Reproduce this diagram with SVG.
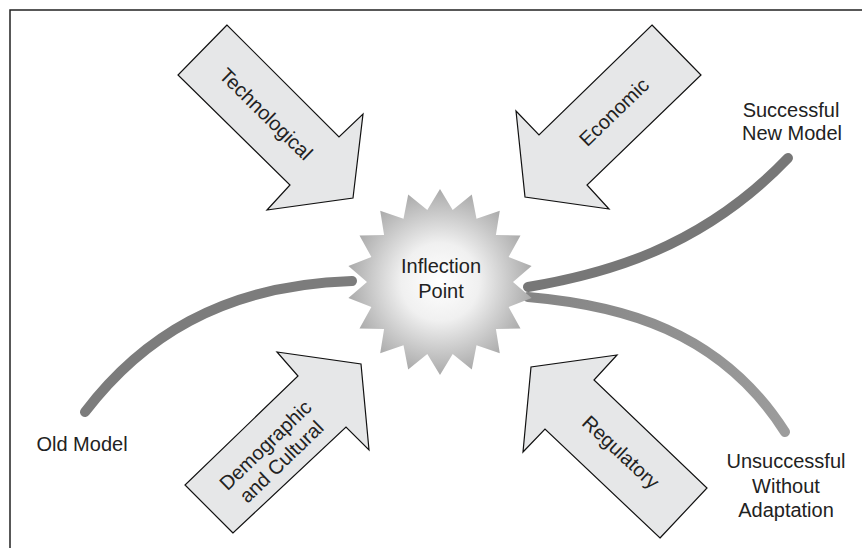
<svg xmlns="http://www.w3.org/2000/svg" width="862" height="548" viewBox="0 0 862 548">
  <defs>
    <radialGradient id="burst" gradientUnits="userSpaceOnUse" cx="440" cy="282" r="93">
      <stop offset="0" stop-color="#ffffff"/>
      <stop offset="0.42" stop-color="#f0f0f0"/>
      <stop offset="1" stop-color="#aaaaaa"/>
    </radialGradient>
    <linearGradient id="lowGrad" gradientUnits="userSpaceOnUse" x1="528" y1="297" x2="785" y2="432">
      <stop offset="0" stop-color="#858585"/>
      <stop offset="1" stop-color="#9c9c9c"/>
    </linearGradient>
    <style>
      .arrow { fill: #e6e7e8; stroke: #111; stroke-width: 1.2; stroke-linejoin: miter; }
      .lbl { font-family: "Liberation Sans", Arial, sans-serif; font-size: 20px; fill: #222; text-anchor: middle; }
      .albl { font-family: "Liberation Sans", Arial, sans-serif; font-size: 20px; fill: #222; text-anchor: middle; }
      .curve { fill: none; stroke-width: 10; }
    </style>
  </defs>
  <rect x="0" y="0" width="862" height="548" fill="#ffffff"/>
  <path d="M10,548 V10 H862" fill="none" stroke="#222" stroke-width="1.5"/>

  <g id="connectors">
    <path class="curve" d="M85,412 C140,340 220,285 352,281" stroke="#7c7c7c" stroke-linecap="round"/>
    <path class="curve" d="M528,287 C600,275 700,250 788,158" stroke="#777777" stroke-linecap="round"/>
    <path class="curve" d="M528,297 C620,305 720,330 785,432" stroke="url(#lowGrad)" stroke-linecap="round"/>
  </g>

  <g id="inflection">
    <polygon fill="url(#burst)" points="440,189 452.7,210.1 471.8,194.6 476.5,218.8 499.8,210.8 495.9,235.1 520.5,235.5 508.6,257 531.6,265.9 513,282 531.6,298.1 508.6,307 520.5,328.5 495.9,328.9 499.8,353.2 476.5,345.2 471.8,369.4 452.7,353.9 440,375 427.3,353.9 408.2,369.4 403.5,345.2 380.2,353.2 384.1,328.9 359.5,328.5 371.4,307 348.4,298.1 367,282 348.4,265.9 371.4,257 359.5,235.5 384.1,235.1 380.2,210.8 403.5,218.8 408.2,194.6 427.3,210.1"/>
    <text class="lbl" x="441" y="273">Inflection</text>
    <text class="lbl" x="441" y="298">Point</text>
  </g>

  <g id="technological">
    <polygon class="arrow" points="227,25 178,75 290,185 267,210 353,198 363,114 339,137"/>
    <text class="albl" transform="translate(266,114) rotate(44.5)" x="0" y="7">Technological</text>
  </g>

  <g id="economic">
    <polygon class="arrow" points="652,25 701,75 587,185 609,209 525,197 516,111 539,135"/>
    <text class="albl" transform="translate(614,112) rotate(-44)" x="0" y="7">Economic</text>
  </g>

  <g id="demographic">
    <polygon class="arrow" points="233,533 185,485 298,376 277,352 361,364 369,450 346,427"/>
    <text class="albl" transform="translate(273,453) rotate(-44)"><tspan x="0" y="-4">Demographic</tspan><tspan x="0" y="19">and Cultural</tspan></text>
  </g>

  <g id="regulatory">
    <polygon class="arrow" points="660,538 707,488 594,380 617,355 531,367 523,452 545,429"/>
    <text class="albl" transform="translate(621,452) rotate(43)" x="0" y="7">Regulatory</text>
  </g>

  <g id="old-model">
    <text class="lbl" x="82" y="451">Old Model</text>
  </g>

  <g id="successful">
    <text class="lbl" x="791" y="117">Successful</text>
    <text class="lbl" x="792" y="140">New Model</text>
  </g>

  <g id="unsuccessful">
    <text class="lbl" x="786" y="468">Unsuccessful</text>
    <text class="lbl" x="786" y="493">Without</text>
    <text class="lbl" x="786" y="517">Adaptation</text>
  </g>
</svg>
